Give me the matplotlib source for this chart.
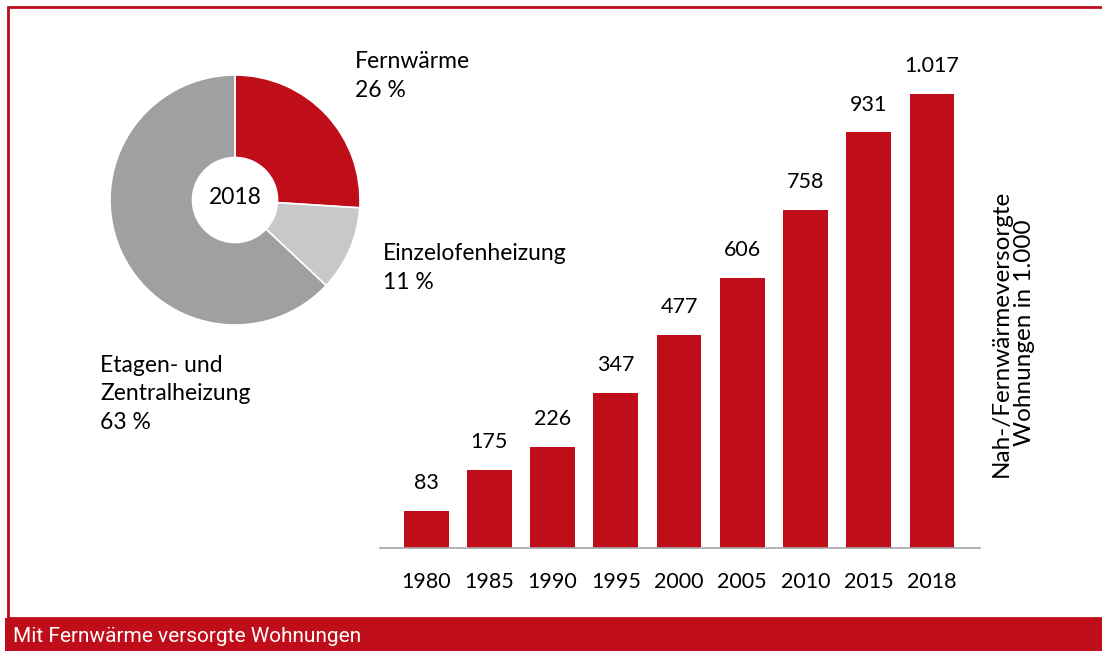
import matplotlib
matplotlib.use("Agg")
import matplotlib.pyplot as plt
from matplotlib.patches import Rectangle

plt.rcParams["font.family"] = ["Lato", "DejaVu Sans"]

# data
years = ["1980", "1985", "1990", "1995", "2000", "2005", "2010", "2015", "2018"]
flats = [83, 175, 226, 347, 477, 606, 758, 931, 1017]
flat_labels = ["83", "175", "226", "347", "477", "606", "758", "931", "1.017"]

shares = [26, 11, 63]
share_names = ["Fernwärme", "Einzelofenheizung", "Etagen- und\nZentralheizung"]

RED = "#C00D1A"
W, H = 1102, 651


def fx(px):
    return px / W


def fy(py):
    return 1 - py / H


fig = plt.figure(figsize=(W / 100, H / 100), dpi=100)
fig.patch.set_facecolor("white")

# frame and bottom banner
fig.patches.append(Rectangle((fx(8), fy(618)), fx(1110) - fx(8), fy(7) - fy(618),
                             transform=fig.transFigure, fill=False,
                             edgecolor=RED, linewidth=2))
fig.patches.append(Rectangle((fx(5), 0), 1, fy(618), transform=fig.transFigure,
                             facecolor=RED, edgecolor="none"))
fig.text(fx(13), fy(637), "Mit Fernwärme versorgte Wohnungen", color="white",
         family=["Roboto", "DejaVu Sans"], fontsize=15, va="center", ha="left")

# bar chart
ax = fig.add_axes([fx(380), fy(548), fx(600), 491 / H])
x = list(range(len(years)))
ax.bar(x, flats, width=0.71, color=RED)
for xi, v, lab in zip(x, flats, flat_labels):
    ax.text(xi, v + 40, lab, ha="center", va="bottom", fontsize=15.5)
ax.set_xlim(-0.73, 8.76)
ax.set_ylim(0, 1100)
ax.set_xticks(x)
ax.set_xticklabels(years, fontsize=15.5)
ax.tick_params(axis="x", length=0, pad=17)
ax.set_yticks([])
for side in ["top", "right", "left"]:
    ax.spines[side].set_visible(False)
ax.spines["bottom"].set_color("#A6A6A6")
ax.spines["bottom"].set_linewidth(1.2)

fig.text(fx(1013), fy(333), "Nah-/Fernwärmeversorgte\nWohnungen in 1.000",
         rotation=90, ha="center", va="center", fontsize=17.5, linespacing=1.1)

# donut
axp = fig.add_axes([fx(110), fy(325), fx(250), 250 / H])
axp.pie(shares, colors=[RED, "#C8C8C8", "#A0A0A0"], startangle=90,
        counterclock=False, radius=1,
        wedgeprops=dict(width=0.66, edgecolor="white", linewidth=1.2))
axp.set_xlim(-1, 1)
axp.set_ylim(-1, 1)
axp.text(0, 0.02, "2018", ha="center", va="center", fontsize=16.5)

fig.text(fx(355), fy(76), f"{share_names[0]}\n{shares[0]} %", ha="left", va="center",
         fontsize=16.5, linespacing=1.45)
fig.text(fx(383), fy(268), f"{share_names[1]}\n{shares[1]} %", ha="left", va="center",
         fontsize=16.5, linespacing=1.45)
fig.text(fx(100), fy(394), f"{share_names[2]}\n{shares[2]} %", ha="left", va="center",
         fontsize=16.5, linespacing=1.45)

fig.savefig("out.png", dpi=100)
